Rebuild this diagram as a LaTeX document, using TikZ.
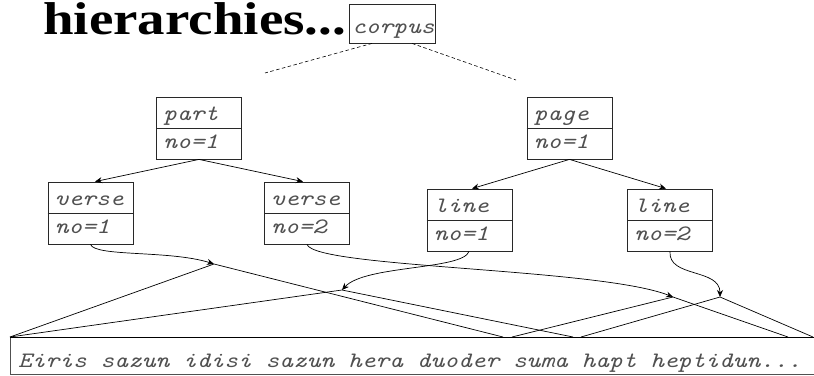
\documentclass[tikz,border=0pt]{standalone}
\usepackage{fontspec}
\usepackage{graphicx}
\usetikzlibrary{arrows.meta}
\newfontfamily\titlefont{Liberation Serif}
\definecolor{txtgray}{RGB}{80,80,80}
\definecolor{boxc}{RGB}{40,40,40}
\newcommand{\mtxt}[1]{\scalebox{1.19}[1]{\ttfamily\itshape\fontsize{22}{22}\selectfont #1}}
\newcommand{\mkbox}[5]{%
  \node[rec] (#1) at (#2,#3) {};
  \draw[boxc, line width=0.8pt] (#1.west) -- (#1.east);
  \node[lbl] (#1-a) at ([xshift=7pt,yshift=8pt]#1.west) {\mtxt{#4}};
  \node[lbl] (#1-b) at ([xshift=7pt,yshift=11pt]#1.south west) {\mtxt{#5}};
}
\tikzset{
  rec/.style={draw=boxc, line width=0.8pt, minimum width=85pt, minimum height=62pt, inner sep=0pt},
  lbl/.style={anchor=base west, inner sep=0pt, text=txtgray},
  conn/.style={line width=0.7pt, -{Stealth[length=7pt,width=6pt]}},
  tri/.style={line width=0.7pt},
  dashln/.style={line width=0.6pt, dash pattern=on 3.5pt off 2.5pt}
}
\begin{document}
\begin{tikzpicture}[x=1pt,y=-1pt]
\useasboundingbox (0,0) rectangle (814,375);
% title
\node[anchor=base west, inner sep=0pt] (title) at (43,34)
  {\scalebox{1.195}[1]{\titlefont\bfseries\fontsize{46}{46}\selectfont hierarchies...}};
% corpus
\node[draw=boxc, fill=white, line width=0.8pt, minimum width=86pt, minimum height=39pt, inner sep=0pt] (corpus) at (392,23.5) {};
\node[lbl] (corpus-a) at (352,33) {\mtxt{corpus}};
\coordinate (dl) at (265,73);
\coordinate (dr) at (516,80);
\draw[dashln] ([xshift=-20pt]corpus.south) -- (dl);
\draw[dashln] ([xshift=20pt]corpus.south) -- (dr);
% boxes
\mkbox{part}{199}{128}{part}{no=1}
\mkbox{verseA}{90.5}{213}{verse}{no=1}
\mkbox{verseB}{307}{213}{verse}{no=2}
\mkbox{page}{569.5}{128}{page}{no=1}
\mkbox{lineA}{469.5}{220}{line}{no=1}
\mkbox{lineB}{670}{220}{line}{no=2}
% tree arrows
\draw[conn] (part.south) -- ([xshift=4.5pt]verseA.north);
\draw[conn] (part.south) -- ([xshift=-4pt]verseB.north);
\draw[conn] (page.south) -- ([xshift=2.5pt]lineA.north);
\draw[conn] (page.south) -- ([xshift=-4pt]lineB.north);
% apexes and base points
\coordinate (A) at (214,264);
\coordinate (B) at (342,290);
\coordinate (C) at (673,297);
\coordinate (D) at (720,297);
\coordinate (b0) at (10,337);
\coordinate (bA) at (503,337);
\coordinate (bB) at (573,337);
\coordinate (bC1) at (512,337);
\coordinate (bC2) at (788,337);
\coordinate (bD1) at (581,337);
\coordinate (bD2) at (813,337);
% triangles
\draw[tri] (b0) -- (A) -- (bA);
\draw[tri] (b0) -- (B) -- (bB);
\draw[tri] (bC1) -- (C) -- (bC2);
\draw[tri] (bD1) -- (D) -- (bD2);
% curved arrows
\draw[conn] (verseA.south) .. controls (95,257) and (170,250) .. (A);
\draw[conn] (verseB.south) .. controls (315,268) and (600,268) .. (C);
\draw[conn] ([xshift=-0.5pt]lineA.south) .. controls (463,270) and (365,265) .. (B);
\draw[conn] (lineB.south) .. controls (668,278) and (720,268) .. (D);
% text box
\draw[txtgray, line width=0.7pt] (814,374) -- (10,374) -- (10,337);
\draw[line width=0.8pt] (10,337) -- (814,337);
\node[lbl] (text) at (18,367) {\mtxt{Eiris sazun idisi sazun hera duoder suma hapt heptidun...}};
\end{tikzpicture}
\end{document}
